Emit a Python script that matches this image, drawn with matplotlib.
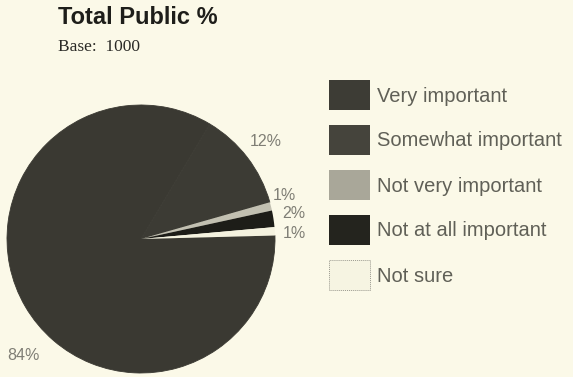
import matplotlib.pyplot as plt
from matplotlib.patches import Rectangle

W, H = 573, 377

categories = ["Very important", "Somewhat important", "Not very important",
              "Not at all important", "Not sure"]
values = [84, 12, 1, 2, 1]
colors = ["#3a3932", "#3c3b34", "#c2c0b1", "#1d1d18", "#f4f2df"]
legend_colors = ["#3d3c35", "#45443c", "#a9a799", "#24241e", "#f6f4e2"]

# where each percentage is written (pixel coords, top-left origin)
label_pos = [(7, 355), (250, 142), (273, 195), (282, 214), (283, 233)]

bg = "#fbf9e8"
fig = plt.figure(figsize=(W / 100, H / 100), dpi=100, facecolor=bg)
ax = fig.add_axes([0, 0, 1, 1])


def py(y):
    return H - y


# pie, drawn clockwise with the small slices sitting just above 3 o'clock
wedges, _ = ax.pie(values, colors=colors, center=(141, py(239)), radius=134,
                   startangle=1.5, counterclock=False, frame=True)
# hide the seam between the two dark slices
for w in wedges[:2]:
    w.set_edgecolor(w.get_facecolor())
    w.set_linewidth(0.6)
ax.set_xlim(0, W)
ax.set_ylim(0, H)
ax.set_aspect("equal")
ax.axis("off")

for v, (x, y) in zip(values, label_pos):
    ax.text(x, py(y), f"{v}%", fontsize=11.5, color="#7f7e75",
            family="Liberation Sans", ha="left", va="center")

# titles
ax.text(58, py(18), "Total Public %", fontsize=17, fontweight="bold",
        family="Liberation Sans", color="#1e1e1a", va="center", ha="left")
ax.text(58, py(47), "Base:  1000", fontsize=12.5, family="Liberation Serif",
        color="#2a2a26", va="center", ha="left")

# legend swatches
for i, (name, c) in enumerate(zip(categories, legend_colors)):
    top = 80 + 45 * i
    ec = "#9a998f" if name == "Not sure" else "none"
    ax.add_patch(Rectangle((329, py(top + 30)), 41, 30, facecolor=c,
                           edgecolor=ec, linewidth=0.7,
                           linestyle=(0, (1, 1)) if ec != "none" else "-"))
    ax.text(377, py(top + 16), name, fontsize=14.5, color="#606057",
            family="Liberation Sans", va="center", ha="left")

fig.savefig("out.png", dpi=100, facecolor=bg)
